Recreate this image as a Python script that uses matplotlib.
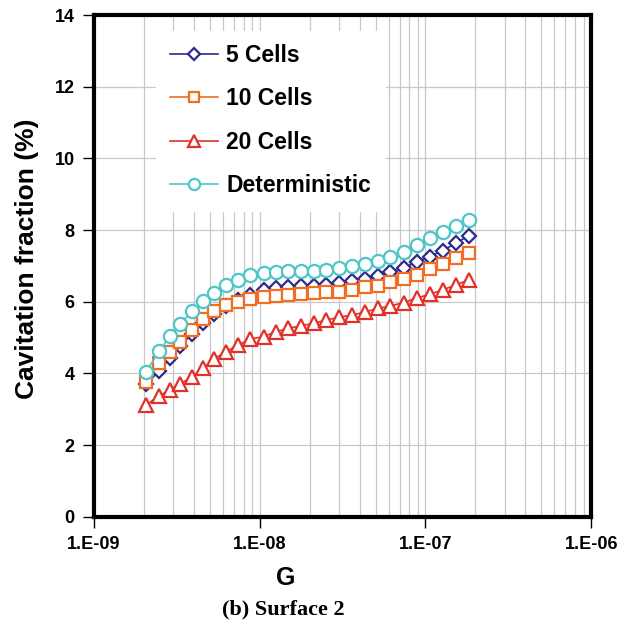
import matplotlib
matplotlib.use("Agg")
import matplotlib.pyplot as plt
from matplotlib.ticker import LogLocator, NullFormatter, FixedLocator, FixedFormatter

# G values
G = [2.06e-9, 2.47e-9, 2.88e-9, 3.31e-9, 3.91e-9, 4.56e-9, 5.31e-9, 6.28e-9, 7.42e-9, 8.76e-9,
     1.06e-8, 1.26e-8, 1.49e-8, 1.78e-8, 2.11e-8, 2.52e-8, 3.02e-8, 3.62e-8, 4.34e-8, 5.2e-8,
     6.15e-8, 7.37e-8, 8.83e-8, 1.06e-7, 1.27e-7, 1.52e-7, 1.82e-7]

cells5 = [3.70, 4.07, 4.44, 4.77, 5.11, 5.40, 5.65, 5.88, 6.05, 6.20, 6.32, 6.38, 6.41, 6.43,
          6.45, 6.48, 6.52, 6.57, 6.64, 6.72, 6.84, 6.93, 7.12, 7.26, 7.43, 7.63, 7.84]
cells10 = [3.77, 4.29, 4.61, 4.89, 5.21, 5.51, 5.73, 5.91, 6.00, 6.08, 6.14, 6.16, 6.19, 6.21,
           6.24, 6.26, 6.28, 6.33, 6.40, 6.45, 6.56, 6.64, 6.75, 6.92, 7.05, 7.21, 7.37]
cells20 = [3.12, 3.38, 3.54, 3.71, 3.91, 4.15, 4.41, 4.61, 4.80, 4.96, 5.03, 5.17, 5.26, 5.33,
           5.40, 5.49, 5.57, 5.63, 5.72, 5.82, 5.88, 5.98, 6.10, 6.21, 6.33, 6.47, 6.61]
determ = [4.05, 4.62, 5.05, 5.38, 5.74, 6.03, 6.25, 6.47, 6.62, 6.74, 6.80, 6.83, 6.85, 6.86,
          6.87, 6.89, 6.93, 6.99, 7.06, 7.15, 7.24, 7.40, 7.58, 7.77, 7.94, 8.11, 8.28]

xticks = [1e-9, 1e-8, 1e-7, 1e-6]
xticklabels = ["1.E-09", "1.E-08", "1.E-07", "1.E-06"]

plt.rcParams['font.family'] = ['Liberation Sans', 'DejaVu Sans']

fig = plt.figure(figsize=(6.19, 6.28), dpi=100)
ax = fig.add_axes([0.152, 0.177, 0.803, 0.799])

ax.plot(G, cells5, color='#2d2a8a', lw=1.2, marker='D', ms=7.5, mfc='white', mew=1.6, label="5 Cells")
ax.plot(G, cells10, color='#f36d21', lw=1.2, marker='s', ms=9, mfc='white', mew=1.6, label="10 Cells")
ax.plot(G, cells20, color='#e2302a', lw=1.2, marker='^', ms=9.5, mfc='white', mew=1.6, label="20 Cells")
ax.plot(G, determ, color='#4ec6c8', lw=1.2, marker='o', ms=9.5, mfc='white', mew=1.6, label="Deterministic")

ax.set_xscale('log')
ax.set_xlim(1e-9, 1e-6)
ax.set_ylim(0, 14)
ax.xaxis.set_major_locator(FixedLocator(xticks))
ax.xaxis.set_major_formatter(FixedFormatter(xticklabels))
ax.xaxis.set_minor_locator(LogLocator(base=10, subs=range(2, 10)))
ax.xaxis.set_minor_formatter(NullFormatter())
ax.set_yticks(range(0, 15, 2))

ax.grid(True, which='both', axis='x', color='#c8c8c8', lw=0.9)
ax.grid(True, which='major', axis='y', color='#c8c8c8', lw=0.9)
ax.set_axisbelow(True)

ax.tick_params(axis='both', which='major', direction='out', length=8, width=1, labelsize=13, pad=6)
ax.tick_params(axis='x', which='minor', length=0)
for lab in ax.get_xticklabels() + ax.get_yticklabels():
    lab.set_fontweight('bold')
for s in ax.spines.values():
    s.set_linewidth(3)

ax.set_xlabel("G", fontsize=18, fontweight='bold')
ax.xaxis.set_label_coords(0.386, -0.098)
ax.set_ylabel("Cavitation fraction (%)", fontsize=19, fontweight='bold')
ax.yaxis.set_label_coords(-0.11, 0.514)

leg = ax.legend(loc='upper left', bbox_to_anchor=(0.102, 0.992), frameon=True, fancybox=False,
                edgecolor='white', framealpha=1, fontsize=16.5, handlelength=2.1,
                labelspacing=0.88, borderpad=0.6, handletextpad=0.35, markerscale=0.85)
for t in leg.get_texts():
    t.set_fontweight('bold')

fig.text(0.457, 0.022, "(b) Surface 2", ha='center', fontsize=16, fontweight='bold',
         family='Liberation Serif')

fig.savefig("out.png", dpi=100)
